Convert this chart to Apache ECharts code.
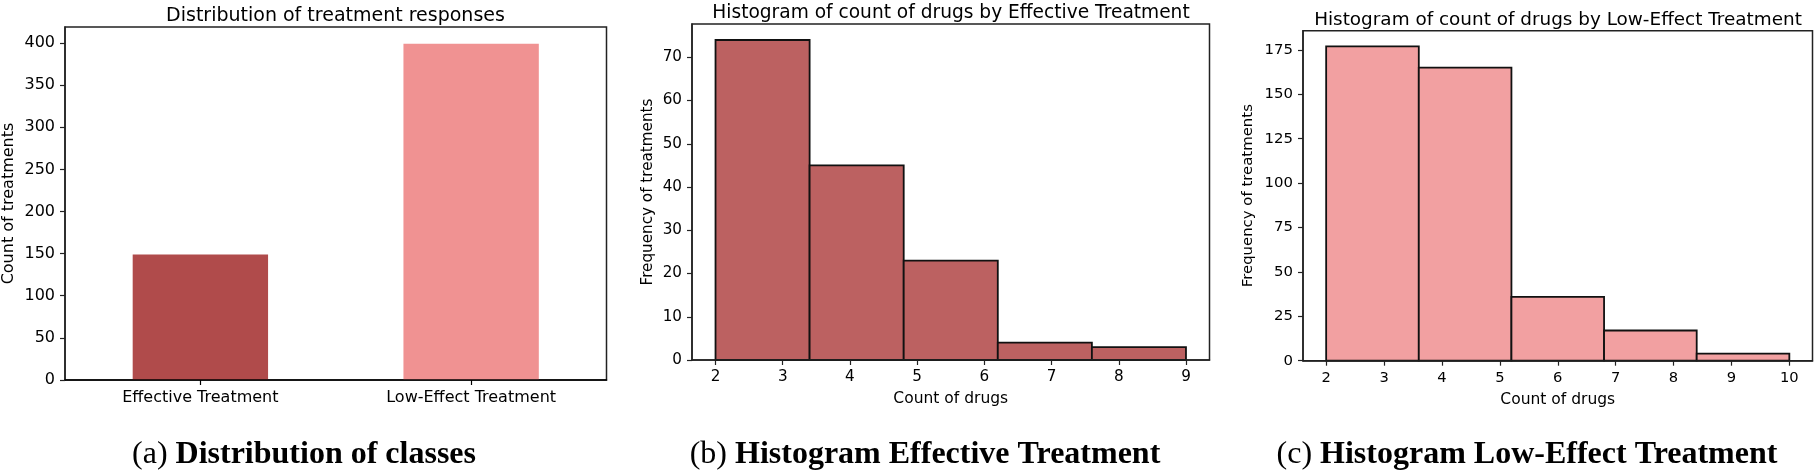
<!DOCTYPE html>
<html>
<head>
<meta charset="utf-8">
<script src="https://cdn.jsdelivr.net/npm/echarts@6/dist/echarts.min.js"></script>
<style>
html,body{margin:0;padding:0;background:#fff;}
#chart{width:1814px;height:471px;}
</style>
</head>
<body>
<div id="chart"></div>
<script>
// ---- data ----
const classNames = ['Effective Treatment', 'Low-Effect Treatment'];
const classCounts = [149, 399];
const classTicksY = [0, 50, 100, 150, 200, 250, 300, 350, 400];

const effEdges = [2, 3.4, 4.8, 6.2, 7.6, 9];
const effCounts = [74, 45, 23, 4, 3];
const effTicksX = [2, 3, 4, 5, 6, 7, 8, 9];
const effTicksY = [0, 10, 20, 30, 40, 50, 60, 70];

const lowEdges = [2, 3.6, 5.2, 6.8, 8.4, 10];
const lowCounts = [177, 165, 36, 17, 4];
const lowTicksX = [2, 3, 4, 5, 6, 7, 8, 9, 10];
const lowTicksY = [0, 25, 50, 75, 100, 125, 150, 175];

const titles = ['Distribution of treatment responses',
  'Histogram of count of drugs by Effective Treatment',
  'Histogram of count of drugs by Low-Effect Treatment'];
const captions = [['(a) ', 'Distribution of classes'],
  ['(b) ', 'Histogram Effective Treatment'],
  ['(c) ', 'Histogram Low-Effect Treatment']];

// ---- styling ----
const FONT = 'DejaVu Sans';
const classColors = ['#b04b4b', '#f09292'];
const effColor = '#bc6161';
const lowColor = '#f2a0a1';

const grids = [
  {left: 64.5, top: 27, width: 542, height: 353},
  {left: 692, top: 24, width: 517.5, height: 336},
  {left: 1303, top: 30.7, width: 509.5, height: 330}
];

function binData(edges, counts) {
  return counts.map((c, i) => [edges[i], edges[i + 1], c]);
}
function histRender(color) {
  return function (params, api) {
    const p0 = api.coord([api.value(0), api.value(2)]);
    const p1 = api.coord([api.value(1), 0]);
    return {
      type: 'rect',
      shape: {x: p0[0], y: p0[1], width: p1[0] - p0[0], height: p1[1] - p0[1]},
      style: {fill: color, stroke: '#111', lineWidth: 1.8}
    };
  };
}
function yAxisCfg(gi, max, ticks, name, fs, gap) {
  return {
    type: 'value', gridIndex: gi, min: 0, max: max, z: 5,
    axisLine: {show: true, lineStyle: {color: '#222', width: 1.5}},
    axisTick: {show: true, length: 5, lineStyle: {color: '#222', width: 1.2}, customValues: ticks},
    axisLabel: {customValues: ticks, color: '#000', fontFamily: FONT, fontSize: fs, margin: 10},
    splitLine: {show: false},
    name: name, nameLocation: 'middle', nameRotate: 90, nameGap: gap,
    nameTextStyle: {color: '#000', fontFamily: FONT, fontSize: fs}
  };
}
function xValAxisCfg(gi, min, max, ticks, fs, gap) {
  return {
    type: 'value', gridIndex: gi, min: min, max: max, z: 5,
    axisLine: {show: true, onZero: false, lineStyle: {color: '#222', width: 1.5}},
    axisTick: {show: true, length: 5, lineStyle: {color: '#222', width: 1.2}, customValues: ticks},
    axisLabel: {customValues: ticks, color: '#000', fontFamily: FONT, fontSize: fs, margin: 10},
    splitLine: {show: false},
    name: 'Count of drugs', nameLocation: 'middle', nameGap: gap,
    nameTextStyle: {color: '#000', fontFamily: FONT, fontSize: 15.5}
  };
}

const effMax = Math.max(...effCounts) * 1.05;
const lowMax = Math.max(...lowCounts) * 1.05;
const classMax = Math.max(...classCounts) * 1.05;

const titlePos = [[335.5, 16, 19], [951, 13, 18.6], [1558, 20, 18.4]];
const capPos = [304, 925, 1527];

const graphic = [];
titles.forEach((t, i) => {
  graphic.push({type: 'text', x: titlePos[i][0], y: titlePos[i][1],
    style: {text: t, fill: '#000', font: titlePos[i][2] + 'px "' + FONT + '"', align: 'center', verticalAlign: 'middle'}});
});
captions.forEach((c, i) => {
  graphic.push({type: 'text', x: capPos[i], y: 455,
    style: {
      text: '{r|' + c[0] + '}{b|' + c[1] + '}',
      align: 'center', verticalAlign: 'middle',
      rich: {
        r: {fontFamily: 'Liberation Serif', fontSize: 32, fill: '#000', color: '#000'},
        b: {fontFamily: 'Liberation Serif', fontSize: 32, fontWeight: 'bold', fill: '#000', color: '#000'}
      }
    }});
});

const option = {
  backgroundColor: '#fff',
  animation: false,
  grid: grids.map(g => Object.assign({show: true, borderColor: '#222', borderWidth: 1.5, backgroundColor: 'transparent', containLabel: false}, g)),
  xAxis: [
    {
      type: 'category', gridIndex: 0, data: classNames, z: 5,
      axisLine: {show: true, lineStyle: {color: '#000', width: 1.5}},
      axisTick: {show: true, alignWithLabel: true, length: 5, lineStyle: {color: '#000', width: 1.2}},
      axisLabel: {color: '#000', fontFamily: FONT, fontSize: 16, margin: 10}
    },
    xValAxisCfg(1, 1.65, 9.35, effTicksX, 15.2, 31),
    xValAxisCfg(2, 1.6, 10.4, lowTicksX, 14.7, 31)
  ],
  yAxis: [
    yAxisCfg(0, classMax, classTicksY, 'Count of treatments', 16, 48),
    yAxisCfg(1, effMax, effTicksY, 'Frequency of treatments', 15.2, 36),
    yAxisCfg(2, lowMax, lowTicksY, 'Frequency of treatments', 14.9, 47)
  ],
  series: [
    {
      type: 'bar', xAxisIndex: 0, yAxisIndex: 0, barWidth: '50%',
      data: classCounts.map((v, i) => ({value: v, itemStyle: {color: classColors[i]}}))
    },
    {
      type: 'custom', xAxisIndex: 1, yAxisIndex: 1,
      renderItem: histRender(effColor), encode: {x: [0, 1], y: 2},
      data: binData(effEdges, effCounts)
    },
    {
      type: 'custom', xAxisIndex: 2, yAxisIndex: 2,
      renderItem: histRender(lowColor), encode: {x: [0, 1], y: 2},
      data: binData(lowEdges, lowCounts)
    }
  ],
  graphic: graphic
};

const chart = echarts.init(document.getElementById('chart'), null, {renderer: 'canvas'});
chart.setOption(option);
</script>
</body>
</html>
